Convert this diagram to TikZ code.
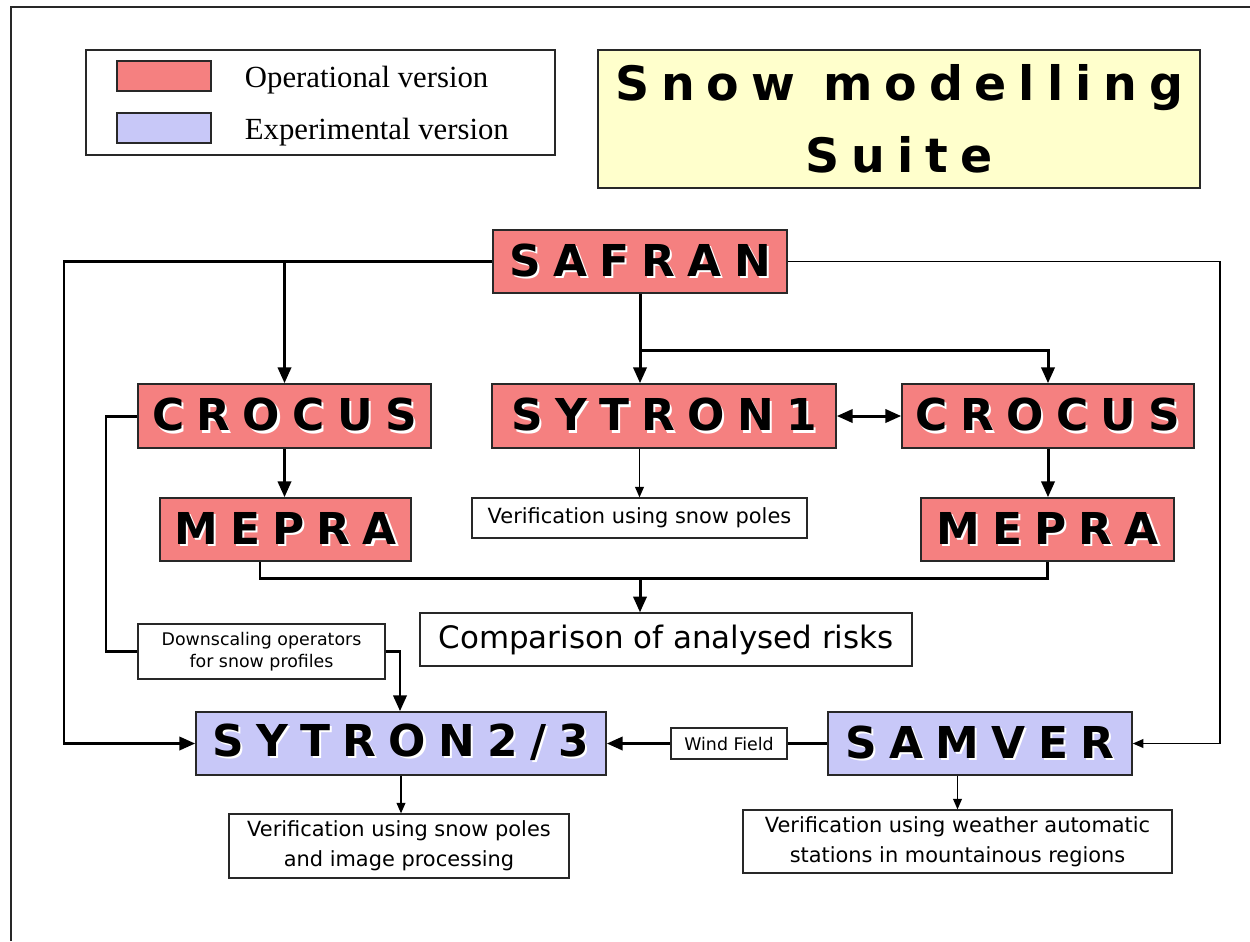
\documentclass[tikz,border=0pt]{standalone}
\usepackage{fontspec}
\setmainfont{DejaVu Sans}
\newfontfamily\namefont{DejaVu Sans}[LetterSpace=28]
\newfontfamily\titlefont{DejaVu Sans}[LetterSpace=25]
\newfontfamily\legendfont{Liberation Serif}
\usepackage{xcolor}
\usetikzlibrary{positioning,arrows.meta}

\definecolor{oper}{RGB}{245,128,128}
\definecolor{exper}{RGB}{200,200,248}
\definecolor{titlebg}{RGB}{255,255,204}
\definecolor{edge}{RGB}{40,40,40}

% block names get a small white drop shadow
\newcommand{\shadename}[1]{\makebox[0pt][l]{\kern1.2pt\raisebox{-1.2pt}{\color{white}#1}}#1}

\begin{document}
\begin{tikzpicture}[x=0.02cm,y=-0.02cm,
    bsize/.style 2 args={minimum width=#1*0.02cm,minimum height=#2*0.02cm},
    block/.style={draw=edge,line width=0.9pt,inner sep=0pt,align=center,
      font=\namefont\bfseries\fontsize{25}{30}\selectfont},
    opblock/.style={block,fill=oper},
    exblock/.style={block,fill=exper},
    note/.style={draw=edge,line width=0.7pt,fill=white,inner sep=0pt,align=center},
    line/.style={line width=1.7pt},
    link/.style={line,-{Triangle[length=9pt,width=7.5pt]}},
    thinlink/.style={line width=0.8pt,-{Triangle[length=6pt,width=5pt]}}
  ]
    \useasboundingbox (0,0) rectangle (1250,941);
    \draw[edge,line width=0.6pt] (11,941) |- (1250,7);

    % legend and title
    \node[draw=edge,line width=0.7pt,bsize={469}{105}] (legend) at (320.5,102.5) {};
    \node[draw=edge,line width=0.7pt,fill=oper,bsize={94}{30}] (opkey) at (164,76) {};
    \node[draw=edge,line width=0.7pt,fill=exper,bsize={94}{30}] (exkey) at (164,128) {};
    \node[right=0.66cm of opkey,yshift=-0.09cm,inner sep=0pt,font=\legendfont\fontsize{17.5}{20}\selectfont] (oplabel) {Operational version};
    \node[right=0.66cm of exkey,yshift=-0.09cm,inner sep=0pt,font=\legendfont\fontsize{17.5}{20}\selectfont] (exlabel) {Experimental version};
    \node[draw=edge,line width=0.9pt,fill=titlebg,bsize={602}{138},align=center,
      font=\titlefont\bfseries\fontsize{27}{41}\selectfont] (title) at (899,119) {Snow modelling\\Suite};

    % model blocks
    \node[opblock,bsize={294}{63}] (safran) at (640,261.5) {\shadename{SAFRAN}};
    \node[opblock,bsize={293}{64}] (crocusL) at (284.5,416) {\shadename{CROCUS}};
    \node[opblock,bsize={251}{63}] (mepraL) at (285.5,529.5) {\shadename{MEPRA}};
    \node[opblock,bsize={344}{64}] (sytron1) at (664,416) {\shadename{SYTRON1}};
    \node[opblock,bsize={292}{64}] (crocusR) at (1048,416) {\shadename{CROCUS}};
    \node[opblock,bsize={253}{63}] (mepraR) at (1047.5,529.5) {\shadename{MEPRA}};
    \node[exblock,bsize={410}{63}] (sytron23) at (401,743.5) {\shadename{SYTRON2/3}};
    \node[exblock,bsize={304}{63}] (samver) at (980,743.5) {\shadename{SAMVER}};

    % notes
    \node[note,bsize={335}{40},font=\fontsize{11.9}{15}\selectfont] (verif1) at (639.5,518) {Verification using snow poles};
    \node[note,bsize={492}{53},font=\fontsize{17.6}{20}\selectfont] (compare) at (666,639.5) {Comparison of analysed risks};
    \node[note,bsize={247}{55},font=\fontsize{9.9}{12.5}\selectfont] (downscale) at (261.5,651.5) {Downscaling operators\\for snow profiles};
    \node[note,bsize={116}{31},font=\fontsize{9.9}{12}\selectfont] (wind) at (729,743.5) {Wind Field};
    \node[note,bsize={340}{64},font=\fontsize{11.9}{17}\selectfont] (verif23) at (399,846) {Verification using snow poles\\and image processing};
    \node[note,bsize={429}{63},font=\fontsize{11.9}{17}\selectfont] (verifS) at (957.5,841.5) {Verification using weather automatic\\stations in mountainous regions};

    % bends
    \coordinate (westbus) at (64,261.5);
    \coordinate (eastbus) at (1220,261.5);
    \coordinate (split) at (640,350);
    \coordinate (merge) at (640,578);
    \coordinate (mepraLdrop) at (260,578);
    \coordinate (dsbend) at (106,416);
    \coordinate (dsdrop) at (400,651.5);

    % SAFRAN outputs
    \draw[link] (safran.west) -- (westbus) |- (sytron23.west);
    \draw[link] (crocusL.north |- safran.west) -- (crocusL.north);
    \draw[link] (safran.south) -- (safran.south |- sytron1.north);
    \draw[link] (split) -| (crocusR.north);
    \draw[thinlink] (safran.east) -- (eastbus) |- (samver.east);
    \draw[line,{Triangle[length=9pt,width=7.5pt]}-{Triangle[length=9pt,width=7.5pt]}] (sytron1.east) -- (crocusR.west);

    % CROCUS -> MEPRA -> risks
    \draw[link] (crocusL.south) -- (crocusL.south |- mepraL.north);
    \draw[link] (crocusR.south) -- (crocusR.south |- mepraR.north);
    \draw[line] (mepraLdrop |- mepraL.south) -- (mepraLdrop) -- (mepraR.south |- merge) -- (mepraR.south);
    \draw[link] (merge) -- (merge |- compare.north);
    \draw[thinlink] (verif1.north |- sytron1.south) -- (verif1.north);

    % inputs of SYTRON2/3
    \draw[line] (crocusL.west) -- (dsbend) |- (downscale.west);
    \draw[link] (downscale.east) -- (dsdrop) -- (dsdrop |- sytron23.north);
    \draw[line] (samver.west) -- (wind.east);
    \draw[link] (wind.west) -- (sytron23.east);

    % verification
    \draw[thinlink] (sytron23.south) -- (sytron23.south |- verif23.north);
    \draw[thinlink] (verifS.north |- samver.south) -- (verifS.north);
\end{tikzpicture}
\end{document}
